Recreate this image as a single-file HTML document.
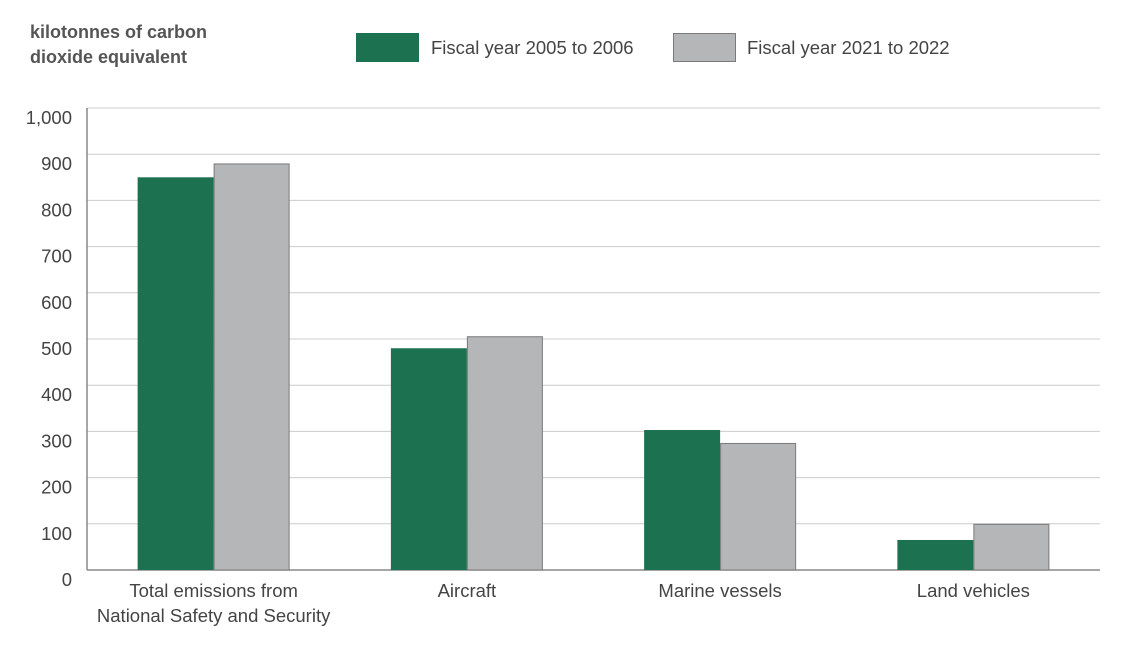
<!DOCTYPE html>
<html><head><meta charset="utf-8"><style>
body{margin:0;background:#fff;}
svg text{font-family:"Liberation Sans",sans-serif;fill:#444;}
</style></head><body>
<svg id="chart" width="1140" height="648" xmlns="http://www.w3.org/2000/svg">
<text x="30" y="38" font-size="18" font-weight="bold" style="fill:#555">kilotonnes of carbon</text>
<text x="30" y="63" font-size="18" font-weight="bold" style="fill:#555">dioxide equivalent</text>
<g>
<rect x="356" y="33" width="63" height="29" fill="#1c7150"/>
<text x="431" y="54" font-size="18.5">Fiscal year 2005 to 2006</text>
<rect x="673.5" y="33.5" width="62" height="28" fill="#b5b6b8" stroke="#7a7a7a"/>
<text x="747" y="54" font-size="18.5">Fiscal year 2021 to 2022</text>
</g>
<g id="grid"></g><g id="bars"></g><g id="labels"></g>
</svg>
<script>
const categories=[["Total emissions from","National Safety and Security"],["Aircraft"],["Marine vessels"],["Land vehicles"]];
const series2005=[850,480,303,65];
const series2021=[880,506,275,100];
const ticks=[0,100,200,300,400,500,600,700,800,900,1000];
const tickLabels=["0","100","200","300","400","500","600","700","800","900","1,000"];
const NS="http://www.w3.org/2000/svg";
const L=87,R=1100,Y0=570,Y1=108,MAX=1000;
const y=v=>Y0-(Y0-Y1)*v/MAX;
const cw=(R-L)/categories.length;
const xc=i=>L+cw*(i+0.5);
function mk(t,a,p){const e=document.createElementNS(NS,t);for(const k in a)e.setAttribute(k,a[k]);p.appendChild(e);return e;}
const g=document.getElementById('grid'),b=document.getElementById('bars'),lb=document.getElementById('labels');
ticks.forEach((t,i)=>{
 const ln=mk('line',{x1:L,x2:R,y1:y(t),y2:y(t),stroke:t===0?'#888':'#ccc','stroke-width':t===0?1.5:1},g);
 
 
 const tx=mk('text',{x:72,y:y(t)+16,'text-anchor':'end','font-size':18.5},lb);
 tx.textContent=tickLabels[i];
 
 
});
const ax=mk('line',{x1:L,x2:L,y1:Y1,y2:Y0,stroke:'#888','stroke-width':1.5},g);


const bw=76;
categories.forEach((c,i)=>{
 const r1=mk('rect',{x:xc(i)-bw,y:y(series2005[i]),width:bw,height:Y0-y(series2005[i]),fill:'#1c7150'},b);
 
 
 const r2=mk('rect',{x:xc(i)+0.5,y:y(series2021[i])+0.5,width:bw-1,height:Y0-y(series2021[i])-0.5,fill:'#b5b6b8',stroke:'#7a7a7a'},b);
 
 
 c.forEach((line,j)=>{
  const t=mk('text',{x:xc(i),y:597+j*25,'text-anchor':'middle','font-size':18.5},lb);
  t.textContent=line;
  
  
 });
});
</script>
</body></html>
